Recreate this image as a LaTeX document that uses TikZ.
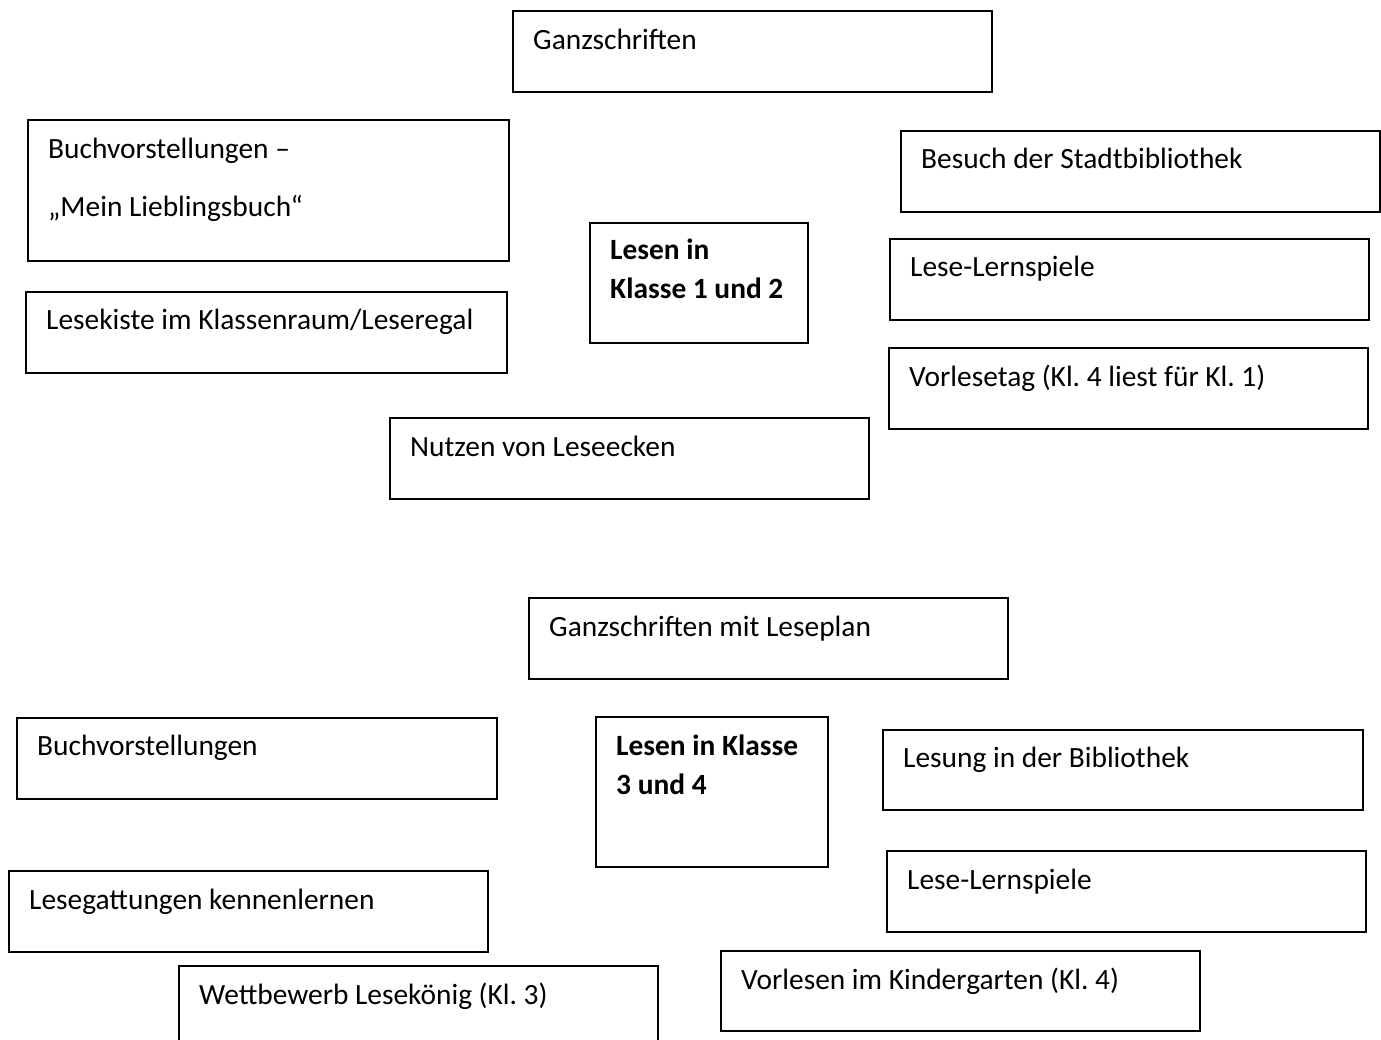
\documentclass[tikz,border=0pt]{standalone}
\usepackage{fontspec}
\setmainfont{Carlito}
\frenchspacing

\tikzset{
    box/.style={draw=black, line width=1.8pt, anchor=north west, inner sep=0pt},
    txt/.style={anchor=base west, inner sep=0pt, align=left, font=\fontsize{29.4}{38}\selectfont},
    head/.style={txt, font=\fontsize{29.4}{39}\selectfont\bfseries},
}

\begin{document}
\begin{tikzpicture}[x=1pt, y=-1pt]
    \useasboundingbox (0,0) rectangle (1381,1040);
    % Klasse 1 und 2
    \node[box, minimum width=479, minimum height=81] (ganz) at (512,10) {};
    \node[txt] (ganzT) at (533,50) {Ganzschriften};
    \node[box, minimum width=481, minimum height=141] (buchA) at (27,119) {};
    \node[txt] (buchAT) at (48,217) {Buchvorstellungen –\\[20pt]„Mein Lieblingsbuch“};
    \node[box, minimum width=479, minimum height=81] (besuch) at (900,130) {};
    \node[txt] (besuchT) at (921,169) {Besuch der Stadtbibliothek};
    \node[box, minimum width=218, minimum height=120] (klasseA) at (589,222) {};
    \node[head] (klasseAT) at (610,299) {Lesen in\\Klasse 1 und 2};
    \node[box, minimum width=479, minimum height=81] (spielA) at (889,238) {};
    \node[txt] (spielAT) at (910,277) {Lese-Lernspiele};
    \node[box, minimum width=481, minimum height=81] (kiste) at (25,291) {};
    \node[txt] (kisteT) at (46,330) {Lesekiste im Klassenraum/Leseregal};
    \node[box, minimum width=479, minimum height=81] (vortag) at (888,347) {};
    \node[txt] (vortagT) at (909,386) {Vorlesetag (Kl. 4 liest für Kl. 1)};
    \node[box, minimum width=479, minimum height=81] (ecken) at (389,417) {};
    \node[txt] (eckenT) at (410,456) {Nutzen von Leseecken};
    % Klasse 3 und 4
    \node[box, minimum width=479, minimum height=81] (plan) at (528,597) {};
    \node[txt] (planT) at (549,636) {Ganzschriften mit Leseplan};
    \node[box, minimum width=480, minimum height=81] (buchB) at (16,717) {};
    \node[txt] (buchBT) at (37,755) {Buchvorstellungen};
    \node[box, minimum width=232, minimum height=150] (klasseB) at (595,716) {};
    \node[head] (klasseBT) at (616,794) {Lesen in Klasse\\3 und 4};
    \node[box, minimum width=480, minimum height=80] (lesung) at (882,729) {};
    \node[txt] (lesungT) at (903,767) {Lesung in der Bibliothek};
    \node[box, minimum width=479, minimum height=81] (spielB) at (886,850) {};
    \node[txt] (spielBT) at (907,889) {Lese-Lernspiele};
    \node[box, minimum width=479, minimum height=81] (gattung) at (8,870) {};
    \node[txt] (gattungT) at (29,909) {Lesegattungen kennenlernen};
    \node[box, minimum width=479, minimum height=81] (koenig) at (178,965) {};
    \node[txt] (koenigT) at (199,1004) {Wettbewerb Lesekönig (Kl. 3)};
    \node[box, minimum width=479, minimum height=80] (kiga) at (720,950) {};
    \node[txt] (kigaT) at (741,989) {Vorlesen im Kindergarten (Kl. 4)};
\end{tikzpicture}
\end{document}
